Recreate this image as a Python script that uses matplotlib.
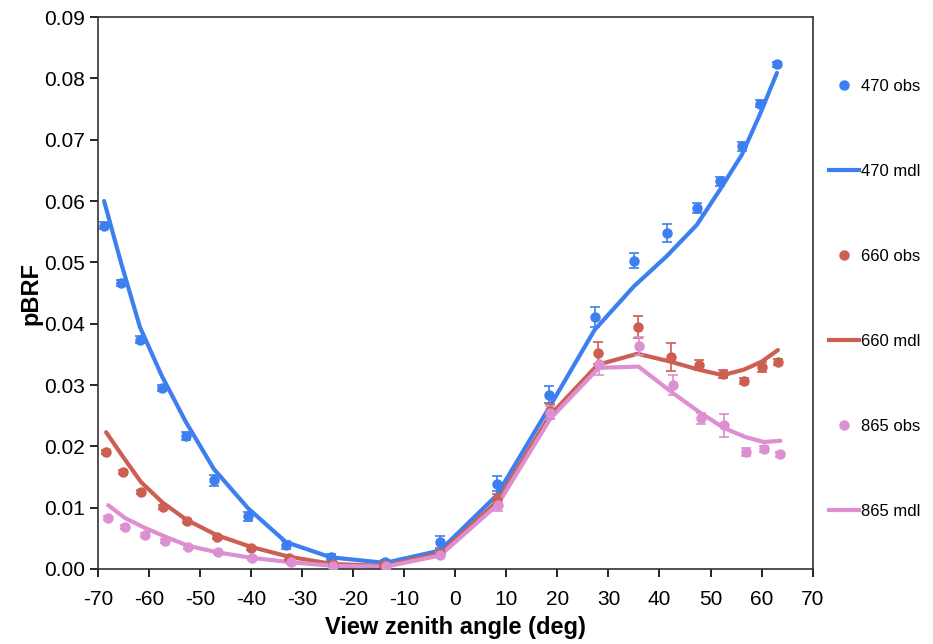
import matplotlib
matplotlib.use("Agg")
import matplotlib.pyplot as plt
from matplotlib.lines import Line2D
import numpy as np

plt.rcParams['font.family'] = ['Liberation Sans', 'DejaVu Sans']
plt.rcParams['axes.unicode_minus'] = False

# view zenith angles (deg)
vza_470 = [-68.8, -65.5, -61.8, -57.5, -52.8, -47.3, -40.6, -33.2, -24.4, -13.8, -3.0,
           8.1, 18.3, 27.3, 35.0, 41.4, 47.3, 51.8, 56.1, 59.6, 63.0]
vza_660 = [-68.4, -65.1, -61.6, -57.3, -52.6, -46.7, -40.0, -32.6, -24.0, -14.0, -3.0,
           8.2, 18.5, 27.9, 35.7, 42.2, 47.7, 52.4, 56.5, 60.0, 63.2]
vza_865 = [-68.0, -64.7, -60.8, -56.9, -52.4, -46.5, -39.8, -32.2, -24.0, -13.5, -3.0,
           8.3, 18.6, 28.1, 35.9, 42.6, 48.1, 52.6, 56.9, 60.4, 63.7]

obs_470 = [0.0560, 0.0466, 0.0374, 0.0295, 0.0217, 0.0145, 0.0086, 0.0039, 0.0020, 0.0011, 0.0044,
           0.0139, 0.0284, 0.0411, 0.0503, 0.0548, 0.0589, 0.0632, 0.0689, 0.0759, 0.0823]
err_470 = [0.0005, 0.0005, 0.0006, 0.0005, 0.0006, 0.0009, 0.0007, 0.0006, 0.0005, 0.0004, 0.0010,
           0.0012, 0.0014, 0.0017, 0.0013, 0.0015, 0.0008, 0.0008, 0.0007, 0.0006, 0.0004]
mdl_470 = [0.0600, 0.0500, 0.0395, 0.0315, 0.0240, 0.0163, 0.0099, 0.0044, 0.0019, 0.0010, 0.0030,
           0.0120, 0.0262, 0.0390, 0.0461, 0.0510, 0.0561, 0.0618, 0.0675, 0.0740, 0.0809]

obs_660 = [0.0191, 0.0158, 0.0126, 0.0101, 0.0078, 0.0052, 0.0034, 0.0018, 0.0008, 0.0006, 0.0026,
           0.0113, 0.0257, 0.0352, 0.0395, 0.0346, 0.0332, 0.0318, 0.0307, 0.0329, 0.0337]
err_660 = [0.0003, 0.0003, 0.0003, 0.0003, 0.0003, 0.0003, 0.0003, 0.0003, 0.0003, 0.0003, 0.0005,
           0.0009, 0.0012, 0.0018, 0.0018, 0.0023, 0.0008, 0.0007, 0.0005, 0.0008, 0.0005]
mdl_660 = [0.0223, 0.0183, 0.0142, 0.0108, 0.0080, 0.0055, 0.0036, 0.0020, 0.0008, 0.0005, 0.0025,
           0.0110, 0.0250, 0.0333, 0.0351, 0.0338, 0.0325, 0.0316, 0.0325, 0.0338, 0.0357]

obs_865 = [0.0083, 0.0069, 0.0055, 0.0046, 0.0036, 0.0027, 0.0018, 0.0011, 0.0005, 0.0005, 0.0023,
           0.0105, 0.0255, 0.0334, 0.0364, 0.0300, 0.0246, 0.0234, 0.0191, 0.0195, 0.0187]
err_865 = [0.0003, 0.0003, 0.0003, 0.0003, 0.0003, 0.0003, 0.0003, 0.0003, 0.0003, 0.0003, 0.0004,
           0.0011, 0.0010, 0.0017, 0.0015, 0.0016, 0.0009, 0.0019, 0.0007, 0.0005, 0.0004]
mdl_865 = [0.0104, 0.0083, 0.0067, 0.0053, 0.0038, 0.0027, 0.0018, 0.0011, 0.0005, 0.0004, 0.0022,
           0.0105, 0.0245, 0.0328, 0.0330, 0.0287, 0.0254, 0.0230, 0.0215, 0.0207, 0.0209]

c470 = '#3d7ff0'
c660 = '#cc5e52'
c865 = '#dc8fd1'

fig = plt.figure(figsize=(9.33, 6.44), dpi=100)
ax = fig.add_axes([0.105, 0.1165, 0.766, 0.857])

series = [
    (vza_470, obs_470, err_470, mdl_470, c470, '470'),
    (vza_660, obs_660, err_660, mdl_660, c660, '660'),
    (vza_865, obs_865, err_865, mdl_865, c865, '865'),
]

handles = []
labels = []
for vza, obs, err, mdl, col, band in series:
    ax.errorbar(vza, obs, yerr=err, fmt='o', color=col, ms=6.5, capsize=3.5,
                elinewidth=1.2, capthick=1.2, zorder=3)
    ax.plot(vza, mdl, color=col, lw=3, solid_capstyle='round', zorder=2)
    handles += [Line2D([], [], marker='o', ls='none', color=col, ms=6.5),
                Line2D([], [], color=col, lw=3)]
    labels += [band + ' obs', band + ' mdl']

ax.set_xlim(-70, 70)
ax.set_ylim(0, 0.09)
ax.set_xticks(np.arange(-70, 71, 10))
ax.set_yticks(np.arange(0, 0.091, 0.01))
ax.yaxis.set_major_formatter(matplotlib.ticker.FormatStrFormatter('%.2f'))
ax.tick_params(direction='out', length=6, width=1.2, labelsize=15, colors='black')
ax.tick_params(axis='x', pad=9)
for s in ax.spines.values():
    s.set_linewidth(1.2)
    s.set_color('#333333')

ax.set_xlabel('View zenith angle (deg)', fontsize=17, fontweight='bold', labelpad=5)
ax.set_ylabel('pBRF', fontsize=17, fontweight='bold', labelpad=1)

fig.legend(handles, labels, loc='upper left', bbox_to_anchor=(0.888, 0.878),
           frameon=False, fontsize=12, labelspacing=4.2, handlelength=1.8,
           handletextpad=0.15, borderaxespad=0, borderpad=0)

fig.savefig('out.png', dpi=100)
